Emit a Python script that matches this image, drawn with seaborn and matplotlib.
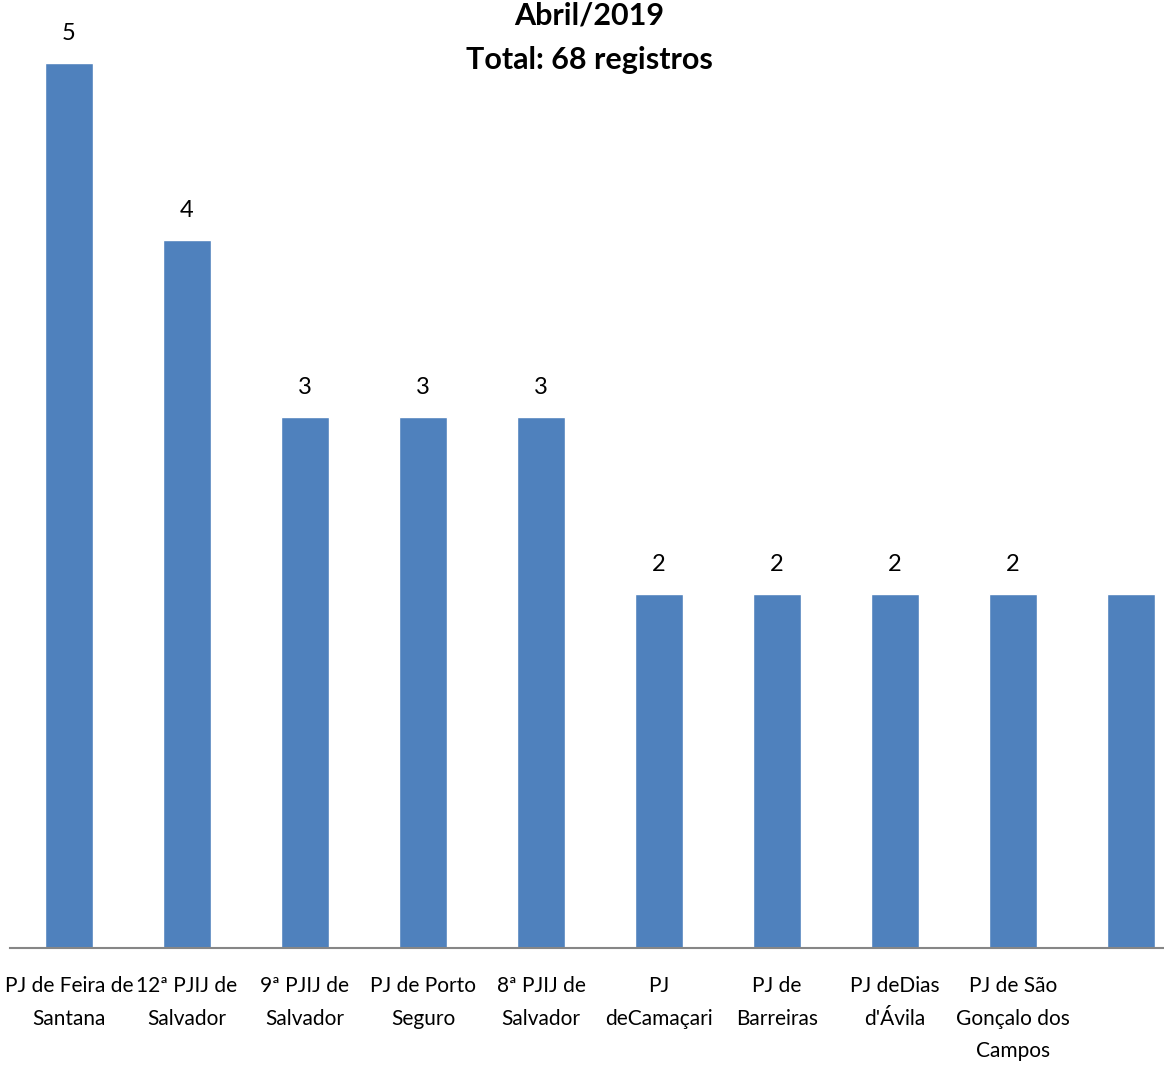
import matplotlib
matplotlib.use("Agg")
import matplotlib.pyplot as plt
import seaborn as sns
import pandas as pd

categories = ["PJ de Feira de\nSantana", "12ª PJIJ de\nSalvador", "9ª PJIJ de\nSalvador",
              "PJ de Porto\nSeguro", "8ª PJIJ de\nSalvador", "PJ\ndeCamaçari",
              "PJ de\nBarreiras", "PJ deDias\nd'Ávila", "PJ de São\nGonçalo dos\nCampos", ""]
values = [5, 4, 3, 3, 3, 2, 2, 2, 2, 2]
# the last bar has no label in the original
value_labels = ["5", "4", "3", "3", "3", "2", "2", "2", "2", ""]
title_lines = ["Abril/2019", "Total: 68 registros"]

sns.set_theme(style="white")
plt.rcParams["font.family"] = ["Lato", "DejaVu Sans"]

df = pd.DataFrame({"cat": categories, "val": values})

fig = plt.figure(figsize=(11.64, 10.65), dpi=100)
ax = fig.add_axes([10 / 1164, 117 / 1065, 1180 / 1164, 885 / 1065])
sns.barplot(data=df, x="cat", y="val", color="#4F81BD", saturation=1, width=0.4, ax=ax)
ax.set_ylim(0, 5)
ax.set_xlim(-0.5, len(categories) - 0.5)
ax.set_xlabel("")
ax.set_ylabel("")
ax.set_yticks([])
for s in ["top", "right", "left"]:
    ax.spines[s].set_visible(False)
ax.spines["bottom"].set_color("#868686")
ax.spines["bottom"].set_linewidth(1.5)
ax.tick_params(axis="x", length=0, labelsize=15, labelcolor="black", pad=20)
for t in ax.get_xticklabels():
    t.set_linespacing(1.8)
ax.bar_label(ax.containers[0], labels=value_labels, padding=14, fontsize=17,
             color="black", clip_on=False)

fig.text(0.506, 1.0 - 16 / 1065, title_lines[0], ha="center", va="center",
         fontsize=22, fontweight="bold", color="black")
fig.text(0.506, 1.0 - 60 / 1065, title_lines[1], ha="center", va="center",
         fontsize=22, fontweight="bold", color="black")

fig.savefig("out.png", dpi=100)
